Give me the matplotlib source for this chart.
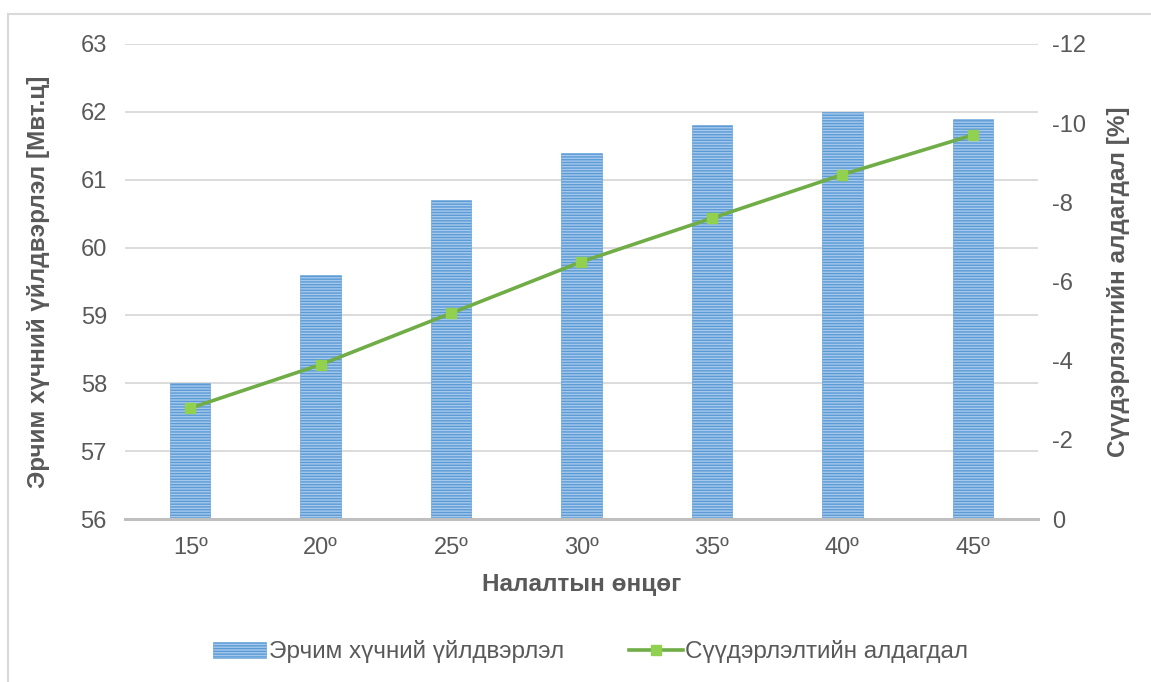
import matplotlib
matplotlib.use('Agg')
from matplotlib import pyplot as plt
from matplotlib.patches import Rectangle
from matplotlib.lines import Line2D

plt.rcParams['font.family'] = ['Liberation Sans', 'DejaVu Sans']
plt.rcParams['axes.unicode_minus'] = False

angles = ['15º', '20º', '25º', '30º', '35º', '40º', '45º']
energy = [58.0, 59.6, 60.7, 61.4, 61.8, 62.0, 61.9]
loss = [-2.8, -3.9, -5.2, -6.5, -7.6, -8.7, -9.7]

grey = '#595959'
bar_face, bar_line = '#a6c8ec', '#5b9bd5'
fig = plt.figure(figsize=(11.51, 6.82), dpi=100)
ax = fig.add_axes([0.1086, 0.239, 0.7932, 0.6965])
ax2 = ax.twinx()

# outer frame of the chart area
fig.patches.append(Rectangle((8 / 1151, -0.1), 1.2, 1 - 14 / 682 + 0.1,
                             transform=fig.transFigure, fill=False,
                             edgecolor='#d9d9d9', linewidth=1.5))

x = range(len(angles))
ax.bar(x, [e - 56 for e in energy], bottom=56, width=0.31,
       color=bar_face, edgecolor=bar_line, linewidth=0.4,
       hatch='------', zorder=2)
ax.set_ylim(56, 63)
ax.set_xlim(-0.5, 6.5)
ax.set_yticks(range(56, 64))
ax.set_xticks(list(x))
ax.set_xticklabels(angles)
ax.grid(axis='y', color='#d9d9d9', linewidth=1.3, zorder=0)
ax.set_axisbelow(True)

ax2.plot(x, loss, color='#70ad47', linewidth=2.6, marker='s',
         markersize=7.5, markerfacecolor='#92d050', markeredgecolor='#92d050')
ax2.set_ylim(0, -12)
ax2.set_yticks(range(0, -13, -2))

for a in (ax, ax2):
    for s in a.spines.values():
        s.set_visible(False)
    a.tick_params(length=0, labelsize=17, colors=grey, pad=13)
ax.spines['bottom'].set_visible(True)
ax.spines['bottom'].set_color('#bfbfbf')
ax.spines['bottom'].set_linewidth(2.2)
ax.tick_params(axis='x', pad=13)
ax2.tick_params(axis='y', pad=10)

ax.set_xlabel('Налалтын өнцөг', fontsize=17.5, fontweight='bold', color=grey, labelpad=10)
ax.set_ylabel('Эрчим хүчний үйлдвэрлэл [Мвт.ц]', fontsize=17.5,
              fontweight='bold', color=grey, labelpad=22)
ax2.set_ylabel('Сүүдэрлэлтийн алдагдал [%]', fontsize=17.5,
               fontweight='bold', color=grey, labelpad=15)

handles = [Rectangle((0, 0), 1, 1, facecolor=bar_face, edgecolor=bar_line,
                     linewidth=0.4, hatch='------'),
           Line2D([], [], color='#70ad47', linewidth=2.6, marker='s',
                  markersize=7.5, markerfacecolor='#92d050', markeredgecolor='#92d050')]
fig.legend(handles, ['Эрчим хүчний үйлдвэрлэл', 'Сүүдэрлэлтийн алдагдал'],
           loc='center', bbox_to_anchor=(0.513, 0.044), ncol=2, frameon=False,
           fontsize=17.5, labelcolor=grey, columnspacing=2.7, handlelength=2.2,
           handleheight=0.6, handletextpad=0.1)

fig.savefig('out.png', dpi=100)
